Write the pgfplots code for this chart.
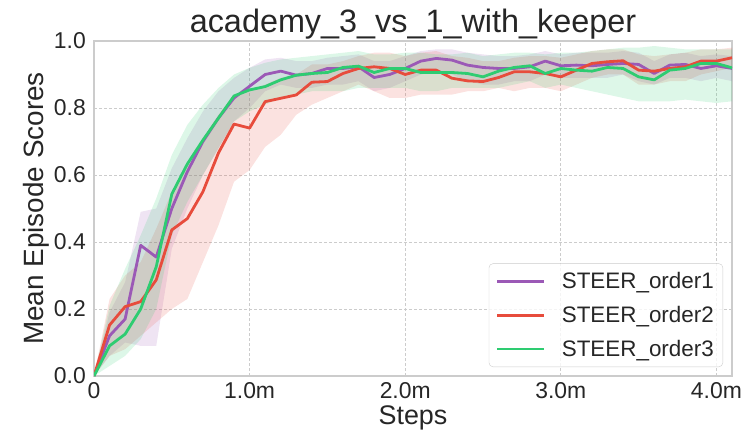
\documentclass[border=0pt]{standalone}
\usepackage{fontspec}
\setmainfont{Liberation Sans}
\usepackage{pgfplots}
\usepackage{pgfplotstable}
\pgfplotsset{compat=1.18}
\usepgfplotslibrary{fillbetween}
\definecolor{cP}{HTML}{9B59B6}
\definecolor{cR}{HTML}{E74C3C}
\definecolor{cG}{HTML}{2ECC71}
\definecolor{txt}{HTML}{262626}
\definecolor{gridc}{HTML}{CCCCCC}
\pgfplotstableread{
x m1 l1 u1 m2 l2 u2 m3 l3 u3
0.0 0 0 0 0 0 0 0 0 0
0.1 0.12 0.06 0.19 0.152 0.06 0.23 0.09 0.03 0.21
0.2 0.17 0.10 0.28 0.207 0.08 0.30 0.125 0.06 0.32
0.3 0.39 0.09 0.49 0.222 0.12 0.34 0.20 0.11 0.42
0.4 0.355 0.09 0.50 0.287 0.16 0.44 0.326 0.20 0.53
0.5 0.50 0.38 0.62 0.436 0.20 0.55 0.543 0.42 0.66
0.6 0.61 0.50 0.71 0.47 0.23 0.63 0.633 0.52 0.75
0.7 0.70 0.60 0.79 0.55 0.34 0.71 0.704 0.60 0.81
0.8 0.77 0.68 0.85 0.666 0.45 0.78 0.77 0.68 0.86
0.9 0.83 0.76 0.89 0.752 0.58 0.84 0.836 0.76 0.90
1.0 0.865 0.80 0.92 0.74 0.615 0.85 0.854 0.79 0.92
1.1 0.90 0.85 0.945 0.819 0.684 0.87 0.864 0.81 0.935
1.2 0.91 0.87 0.95 0.829 0.72 0.89 0.884 0.83 0.945
1.3 0.898 0.86 0.94 0.839 0.78 0.90 0.898 0.84 0.95
1.4 0.903 0.86 0.94 0.877 0.81 0.93 0.903 0.85 0.955
1.5 0.918 0.87 0.95 0.879 0.83 0.93 0.906 0.85 0.96
1.6 0.918 0.87 0.955 0.903 0.85 0.94 0.921 0.85 0.965
1.7 0.923 0.88 0.96 0.918 0.87 0.955 0.925 0.86 0.97
1.8 0.891 0.85 0.94 0.923 0.85 0.965 0.906 0.86 0.96
1.9 0.90 0.86 0.94 0.918 0.83 0.965 0.918 0.86 0.96
2.0 0.918 0.88 0.955 0.90 0.83 0.955 0.918 0.86 0.965
2.1 0.940 0.90 0.97 0.913 0.84 0.965 0.906 0.85 0.965
2.2 0.948 0.91 0.975 0.913 0.84 0.97 0.906 0.85 0.96
2.3 0.943 0.90 0.975 0.889 0.84 0.955 0.906 0.86 0.96
2.4 0.928 0.88 0.965 0.881 0.85 0.95 0.903 0.86 0.965
2.5 0.921 0.87 0.96 0.879 0.85 0.94 0.893 0.86 0.955
2.6 0.918 0.87 0.955 0.891 0.86 0.94 0.910 0.86 0.96
2.7 0.918 0.88 0.955 0.908 0.85 0.95 0.921 0.87 0.965
2.8 0.923 0.88 0.96 0.908 0.86 0.955 0.926 0.88 0.965
2.9 0.940 0.90 0.97 0.903 0.86 0.955 0.903 0.86 0.96
3.0 0.926 0.89 0.96 0.893 0.85 0.95 0.918 0.87 0.965
3.1 0.928 0.89 0.965 0.913 0.87 0.96 0.913 0.86 0.965
3.2 0.926 0.89 0.965 0.933 0.89 0.97 0.910 0.85 0.97
3.3 0.930 0.89 0.965 0.938 0.90 0.975 0.921 0.84 0.975
3.4 0.933 0.90 0.97 0.941 0.90 0.975 0.918 0.83 0.98
3.5 0.930 0.88 0.965 0.913 0.87 0.96 0.893 0.82 0.98
3.6 0.903 0.87 0.94 0.910 0.87 0.955 0.884 0.82 0.985
3.7 0.928 0.89 0.96 0.918 0.88 0.96 0.913 0.82 0.98
3.8 0.930 0.89 0.965 0.923 0.88 0.965 0.918 0.825 0.975
3.9 0.918 0.88 0.955 0.940 0.90 0.975 0.933 0.82 0.975
4.0 0.926 0.89 0.96 0.940 0.91 0.975 0.933 0.815 0.975
4.1 0.918 0.88 0.955 0.950 0.92 0.98 0.920 0.82 0.975
}\data
\begin{document}
\begin{tikzpicture}
\begin{axis}[
  scale only axis,
  width=638bp, height=335bp,
  xmin=0, xmax=4.1, ymin=0, ymax=1,
  xtick={0,1,2,3,4},
  xticklabels={0,1.0m,2.0m,3.0m,4.0m},
  ytick={0,0.2,0.4,0.6,0.8,1.0},
  yticklabels={0.0,0.2,0.4,0.6,0.8,1.0},
  major tick length=0pt,
  /pgf/number format/assume math mode=true,
  tick label style={font=\fontsize{23}{26}\selectfont, text=txt},
  xticklabel style={inner sep=0pt, anchor=north, yshift=-6bp},
  yticklabel style={inner sep=0pt, anchor=east, xshift=-8bp},
  grid=major,
  major grid style={gridc, line width=0.8bp, dash pattern=on 3bp off 2bp},
  axis line style={gridc, line width=1.2bp},
  title={academy\_3\_vs\_1\_with\_keeper},
  title style={font=\fontsize{32.5}{38}\selectfont, text=txt, inner sep=0pt, anchor=base, at={(axis description cs:0.5,1.009)}},
  xlabel={Steps},
  xlabel style={font=\fontsize{27}{31}\selectfont, text=txt, inner sep=0pt, anchor=north, at={(axis description cs:0.5,-0.088)}},
  ylabel={Mean Episode Scores},
  ylabel style={font=\fontsize{28}{32}\selectfont, text=txt, inner sep=0pt, anchor=south, at={(axis description cs:-0.069,0.5)}},
  legend style={at={(rel axis cs:1,0)}, anchor=south east, xshift=-9bp, yshift=9bp,
    draw=gridc, rounded corners=4bp, fill=white, fill opacity=0.8, text opacity=1,
    font=\fontsize{22.5}{26}\selectfont, text=txt, row sep=12bp, inner xsep=7bp, inner ysep=7bp,
    /tikz/every odd column/.style={column sep=14bp}},
  legend cell align=left,
  legend image code/.code={\draw[#1, line width=2.8bp] (0bp,0bp) -- (47bp,0bp);},
]
\addplot[draw=none, name path=u1, forget plot] table[x=x,y=u1]{\data};
\addplot[draw=none, name path=l1, forget plot] table[x=x,y=l1]{\data};
\addplot[cP, fill opacity=0.16, draw=none, forget plot] fill between[of=u1 and l1];
\addplot[draw=none, name path=u2, forget plot] table[x=x,y=u2]{\data};
\addplot[draw=none, name path=l2, forget plot] table[x=x,y=l2]{\data};
\addplot[cR, fill opacity=0.16, draw=none, forget plot] fill between[of=u2 and l2];
\addplot[draw=none, name path=u3, forget plot] table[x=x,y=u3]{\data};
\addplot[draw=none, name path=l3, forget plot] table[x=x,y=l3]{\data};
\addplot[cG, fill opacity=0.16, draw=none, forget plot] fill between[of=u3 and l3];
\addplot[cP, line width=2.8bp, line join=round] table[x=x,y=m1]{\data};
\addlegendentry{STEER\_order1}
\addplot[cR, line width=2.8bp, line join=round] table[x=x,y=m2]{\data};
\addlegendentry{STEER\_order2}
\addplot[cG, line width=2.8bp, line join=round] table[x=x,y=m3]{\data};
\addlegendentry{STEER\_order3}
\coordinate (ll) at (rel axis cs:0,0);
\coordinate (ur) at (rel axis cs:1,1);
\end{axis}
\pgfresetboundingbox
\path ([shift={(-94bp,-59bp)}]ll) rectangle ([shift={(17bp,41bp)}]ur);
\end{tikzpicture}
\end{document}
